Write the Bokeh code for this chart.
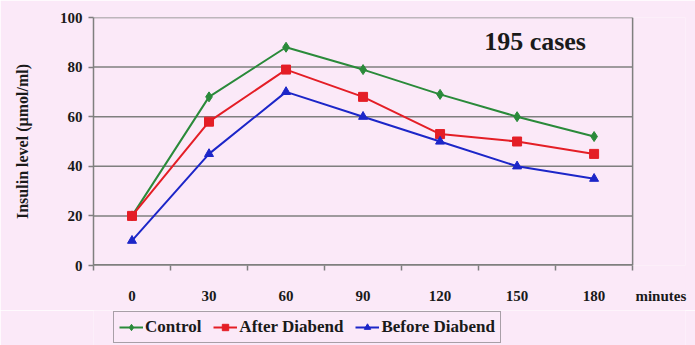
from bokeh.plotting import figure
from bokeh.layouts import column
from bokeh.models import FixedTicker, Legend, LegendItem, Label, Range1d
from bokeh.embed import file_html
from bokeh.resources import INLINE

minutes = [0, 30, 60, 90, 120, 150, 180]
x_labels = ["0", "30", "60", "90", "120", "150", "180"]
unit_label = "minutes"
control = [20, 68, 88, 79, 69, 60, 52]
after = [20, 58, 79, 68, 53, 50, 45]
before = [10, 45, 70, 60, 50, 40, 35]
y_ticks = [0, 20, 40, 60, 80, 100]
series_names = ["Control", "After Diabend", "Before Diabend"]

BG = "#fbe9f8"
GRAY = "#7f7f7f"
FONT = "Liberation Serif"
GREEN = "#2a8a3a"
RED = "#e41e26"
BLUE = "#1c26c8"
TXT = "#1a1a1a"

X_LO, X_HI = -15, 195          # extent of the plotting box
UNIT_X = 206                   # where the "minutes" label sits

p = figure(width=695, height=310, output_backend="svg", toolbar_location=None,
           x_range=Range1d(X_LO, 215.6), y_range=Range1d(0, 100),
           min_border_left=93, min_border_right=10, min_border_top=17, min_border_bottom=45)
p.background_fill_color = BG
p.border_fill_color = BG
p.outline_line_color = None
p.xgrid.visible = False
p.ygrid.visible = False

# grid lines and the box, limited to the plotting box
n = len(y_ticks)
p.segment(x0=[X_LO] * n, y0=y_ticks, x1=[X_HI] * n, y1=y_ticks, line_color=GRAY, line_width=1.5)
p.segment(x0=[X_HI], y0=[0], x1=[X_HI], y1=[100], line_color=GRAY, line_width=1.5)
p.segment(x0=[X_LO], y0=[0], x1=[X_HI], y1=[0], line_color=GRAY, line_width=3)

xa = p.xaxis[0]
xa.ticker = FixedTicker(ticks=minutes + [UNIT_X],
                        minor_ticks=[m - 15 for m in minutes] + [X_HI])
overrides = {m: l for m, l in zip(minutes, x_labels)}
overrides[UNIT_X] = unit_label
xa.major_label_overrides = overrides
xa.major_tick_line_color = None
xa.major_tick_out = 0
xa.minor_tick_out = 5
xa.minor_tick_in = 0
xa.minor_tick_line_color = GRAY
xa.minor_tick_line_width = 1.5
xa.axis_line_color = None
xa.major_label_standoff = 17
xa.major_label_text_font = FONT
xa.major_label_text_font_style = "bold"
xa.major_label_text_font_size = "15px"
xa.major_label_text_color = TXT

ya = p.yaxis[0]
ya.ticker = FixedTicker(ticks=y_ticks)
ya.major_tick_out = 5
ya.major_tick_in = 0
ya.major_tick_line_color = GRAY
ya.major_tick_line_width = 1.5
ya.minor_tick_line_color = None
ya.axis_line_color = GRAY
ya.axis_line_width = 1.5
ya.major_label_standoff = 6
ya.major_label_text_font = FONT
ya.major_label_text_font_style = "bold"
ya.major_label_text_font_size = "15px"
ya.major_label_text_color = TXT
ya.axis_label = "Insulin level (µmol/ml)"
ya.axis_label_text_font = FONT
ya.axis_label_text_font_style = "bold"
ya.axis_label_text_font_size = "16px"
ya.axis_label_text_color = TXT
ya.axis_label_standoff = 26

colors = [GREEN, RED, BLUE]
markers = ["diamond", "square", "triangle"]
sizes = [10, 9, 9]
all_series = [control, after, before]
for vals, c, m, s in zip(all_series, colors, markers, sizes):
    p.line(minutes, vals, line_color=c, line_width=2)
    p.scatter(minutes, vals, marker=m, size=s, fill_color=c, line_color=c)

p.add_layout(Label(x=157, y=90.5, text="195 cases", text_align="center", text_baseline="middle",
                   text_font=FONT, text_font_style="bold", text_font_size="26px", text_color=TXT))

# legend strip below the chart (its glyphs carry the same data, outside its view)
lf = figure(width=695, height=35, output_backend="svg", toolbar_location=None,
            x_range=Range1d(-2, -1), y_range=Range1d(-2, -1),
            min_border_left=0, min_border_right=0, min_border_top=0, min_border_bottom=0)
lf.axis.visible = False
lf.grid.visible = False
lf.outline_line_color = None
lf.background_fill_color = BG
lf.border_fill_color = BG
items = []
for name, vals, c, m in zip(series_names, all_series, colors, markers):
    lr = lf.line(minutes, vals, line_color=c, line_width=2)
    sr = lf.scatter(minutes, vals, marker=m, size=7, fill_color=c, line_color=c)
    items.append(LegendItem(label=name, renderers=[lr, sr]))

legend = Legend(items=items, orientation="horizontal", location=(20, 2))
legend.border_line_color = "#555555"
legend.border_line_width = 1.5
legend.background_fill_color = BG
legend.background_fill_alpha = 1
legend.label_text_font = FONT
legend.label_text_font_style = "bold"
legend.label_text_font_size = "17px"
legend.label_text_color = TXT
legend.glyph_width = 24
legend.glyph_height = 16
legend.label_standoff = 2
legend.spacing = 12
legend.padding = 5
legend.margin = 0
lf.add_layout(legend, "center")

layout = column(p, lf, spacing=0)
open("out.html", "w").write(file_html(layout, INLINE))
